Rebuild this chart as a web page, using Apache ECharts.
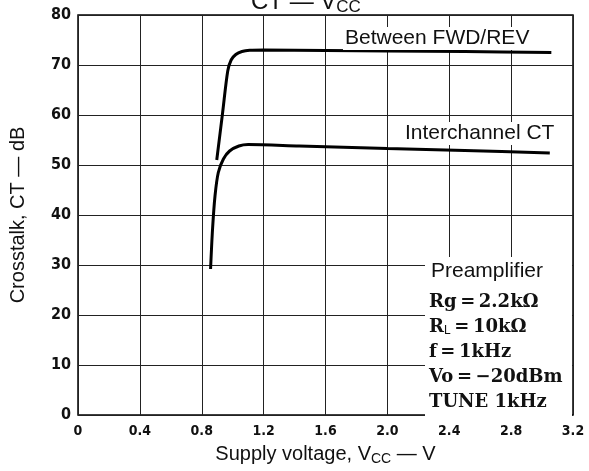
<!DOCTYPE html>
<html>
<head>
<meta charset="utf-8">
<script src="https://cdn.jsdelivr.net/npm/echarts@6/dist/echarts.min.js"></script>
<style>
  html, body { margin: 0; padding: 0; background: #fff; }
  #chart { width: 589px; height: 471px; }
</style>
</head>
<body>
<div id="chart"></div>
<script>
  // 数据
  var xTicks = [0, 0.4, 0.8, 1.2, 1.6, 2.0, 2.4, 2.8, 3.2]
  var yTicks = [0, 10, 20, 30, 40, 50, 60, 70, 80]
  var fwdRev = [
    [0.897, 51], [0.935, 60.5], [0.968, 68.8], [0.99, 71.0], [1.02, 72.1],
    [1.06, 72.7], [1.11, 72.95], [1.2, 73.0], [1.6, 72.9], [2.0, 72.8],
    [2.5, 72.7], [3.06, 72.5]
  ]
  var interCh = [
    [0.857, 29.2], [0.87, 37.3], [0.886, 43.9], [0.907, 48.5], [0.94, 51.2],
    [0.98, 52.8], [1.04, 53.8], [1.1, 54.1], [1.43, 53.8], [2.0, 53.3],
    [2.5, 52.9], [3.05, 52.4]
  ]
  var noteLines = ['Rg\u2009=\u20092.2kΩ', '{s|R}{sub|L}{s|\u2009=\u200910kΩ}', 'f\u2009=\u20091kHz', 'Vo\u2009=\u2009−20dBm', 'TUNE 1kHz']

  var chart = echarts.init(document.getElementById('chart'))
  var serifRich = {
    s: { fontFamily: 'DejaVu Serif', fontWeight: 'bold', fontSize: 18, color: '#111' },
    sub: { fontFamily: 'Liberation Sans', fontSize: 12, color: '#111', verticalAlign: 'bottom', padding: [8, 0, 0, 0] }
  }
  var notes = noteLines.map(function (t, i) {
    return {
      type: 'text',
      left: 429,
      top: 293 + i * 25,
      z: 20,
      style: {
        text: t.indexOf('{') === 0 ? t : '{s|' + t + '}',
        rich: serifRich,
        fill: '#111'
      }
    }
  })

  var option = {
    animation: false,
    title: {
      text: 'CT — V{sub|CC}',
      left: 246,
      top: -17,
      textStyle: {
        fontFamily: 'Liberation Sans',
        fontSize: 24,
        fontWeight: 'normal',
        color: '#111',
        rich: {
          sub: { fontFamily: 'Liberation Sans', fontSize: 17, color: '#111', padding: [11, 0, 0, 0] }
        }
      }
    },
    grid: {
      left: 78, right: 16, top: 15, bottom: 53,
      show: true, borderColor: '#000', borderWidth: 1.5
    },
    xAxis: {
      type: 'value',
      min: 0, max: 3.2, interval: 0.4,
      name: 'Supply voltage, V{sub|CC} — V',
      nameLocation: 'middle',
      nameGap: 28,
      nameTextStyle: {
        fontFamily: 'Liberation Sans', fontSize: 20, color: '#111',
        rich: {
          sub: { fontFamily: 'Liberation Sans', fontSize: 14, color: '#111', padding: [9, 0, 0, 0] }
        }
      },
      axisLine: { show: false },
      axisTick: { show: false },
      axisLabel: {
        margin: 9,
        fontFamily: 'DejaVu Sans Condensed', fontWeight: 'bold', fontSize: 14, color: '#111',
        formatter: function (v) {
          var i = xTicks.indexOf(Math.round(v * 10) / 10)
          return i === 0 ? '0' : xTicks[i].toFixed(1)
        }
      },
      splitLine: { show: true, lineStyle: { color: '#222', width: 1 } }
    },
    yAxis: {
      type: 'value',
      min: 0, max: 80, interval: 10,
      name: 'Crosstalk, CT — dB',
      nameLocation: 'middle',
      nameGap: 50,
      nameTextStyle: { fontFamily: 'Liberation Sans', fontSize: 20, color: '#111' },
      axisLine: { show: false },
      axisTick: { show: false },
      axisLabel: {
        margin: 7,
        fontFamily: 'DejaVu Sans Condensed', fontWeight: 'bold', fontSize: 16, color: '#111',
        formatter: function (v) { return yTicks.indexOf(v) >= 0 ? String(v) : '' }
      },
      splitLine: { show: true, lineStyle: { color: '#222', width: 1 } }
    },
    series: [
      {
        name: 'Between FWD/REV',
        type: 'line',
        data: fwdRev,
        smooth: 0.3,
        showSymbol: false,
        lineStyle: { color: '#000', width: 3 },
        z: 5
      },
      {
        name: 'Interchannel CT',
        type: 'line',
        data: interCh,
        smooth: 0.3,
        showSymbol: false,
        lineStyle: { color: '#000', width: 3 },
        z: 5
      }
    ],
    graphic: [
      {
        type: 'text', left: 343, top: 27, z: 20,
        style: {
          text: 'Between FWD/REV', fontFamily: 'Liberation Sans', fontSize: 21,
          fill: '#111', backgroundColor: '#fff', padding: [1, 2, 1, 2]
        }
      },
      {
        type: 'text', left: 403, top: 122, z: 20,
        style: {
          text: 'Interchannel CT', fontFamily: 'Liberation Sans', fontSize: 21,
          fill: '#111', backgroundColor: '#fff', padding: [1, 2, 1, 2]
        }
      },
      {
        type: 'rect', left: 425, top: 257, z: 15,
        shape: { width: 147, height: 160 },
        style: { fill: '#fff' }
      },
      {
        type: 'text', left: 431, top: 261, z: 20,
        style: { text: 'Preamplifier', fontFamily: 'Liberation Sans', fontSize: 21, fill: '#111' }
      }
    ].concat(notes)
  }
  chart.setOption(option)
</script>
</body>
</html>
